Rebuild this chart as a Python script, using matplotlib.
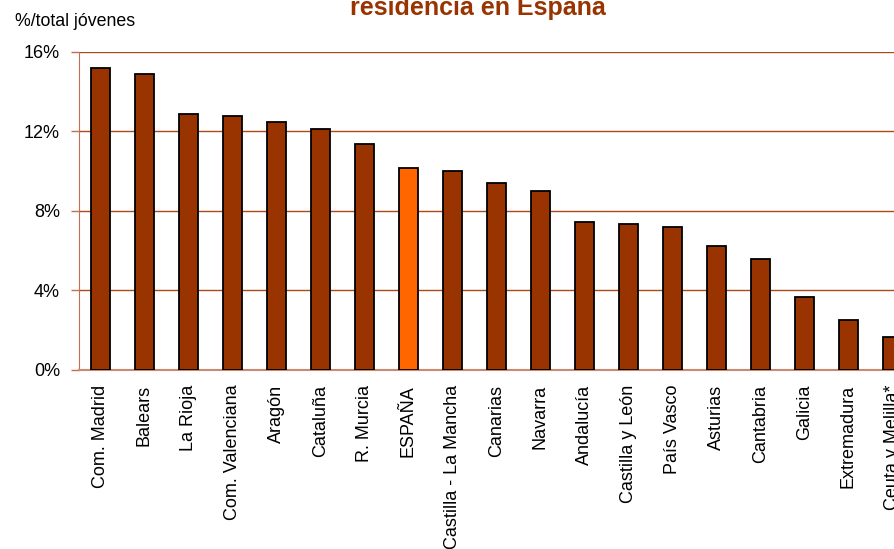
import matplotlib
matplotlib.use("Agg")
import matplotlib.pyplot as plt

regions = ["Com. Madrid", "Balears", "La Rioja", "Com. Valenciana", "Aragón",
           "Cataluña", "R. Murcia", "ESPAÑA", "Castilla - La Mancha", "Canarias",
           "Navarra", "Andalucía", "Castilla y León", "País Vasco", "Asturias",
           "Cantabria", "Galicia", "Extremadura", "Ceuta y Melilla*"]
values = [15.21, 14.88, 12.86, 12.76, 12.46, 12.12, 11.38, 10.14, 9.99, 9.38,
          8.98, 7.45, 7.33, 7.18, 6.22, 5.55, 3.67, 2.48, 1.62]
highlight = "ESPAÑA"
yticks = [0, 4, 8, 12, 16]
ytick_labels = ["0%", "4%", "8%", "12%", "16%"]

plt.rcParams['font.family'] = ['Liberation Sans', 'DejaVu Sans']

W, H = 894, 549
fig = plt.figure(figsize=(W / 100, H / 100), dpi=100)
left = 78.5 / W
bottom = 1 - 369.5 / H
top = 1 - 52 / H
right = 914.5 / W
ax = fig.add_axes([left, bottom, right - left, top - bottom])

grid_col = '#a9491c'
colors = ['#ff6600' if r == highlight else '#993300' for r in regions]
x = list(range(len(regions)))
ax.bar(x, values, width=0.42, color=colors, edgecolor='black', linewidth=1.3, zorder=3)

ax.set_xlim(-0.5, len(regions) - 0.5)
ax.set_ylim(0, 16)
ax.set_yticks(yticks)
ax.set_yticklabels(ytick_labels, fontsize=13)
ax.set_xticks(x)
ax.set_xticklabels(regions, rotation=90, fontsize=13, va='top', ha='center')
ax.tick_params(axis='x', length=0, pad=11)
ax.tick_params(axis='y', length=5.8, width=1, color='#c07050', pad=7.5)

for s in ['top', 'right']:
    ax.spines[s].set_visible(False)
ax.spines['left'].set_color('#c07050')
ax.spines['bottom'].set_color('#c98a70')
ax.spines['bottom'].set_linewidth(1.5)
ax.set_clip_on(False)

for yv in yticks[1:]:
    ax.axhline(yv, color=grid_col, linewidth=1, zorder=1)

fig.text(15 / W, 1 - 26 / H, "%/total jóvenes", fontsize=12.8, ha='left', va='baseline')
fig.text(478 / W, 1 - 15 / H, "residencia en España", fontsize=18, fontweight='bold',
         color='#993300', ha='center', va='baseline')

fig.savefig("out.png", dpi=100)
